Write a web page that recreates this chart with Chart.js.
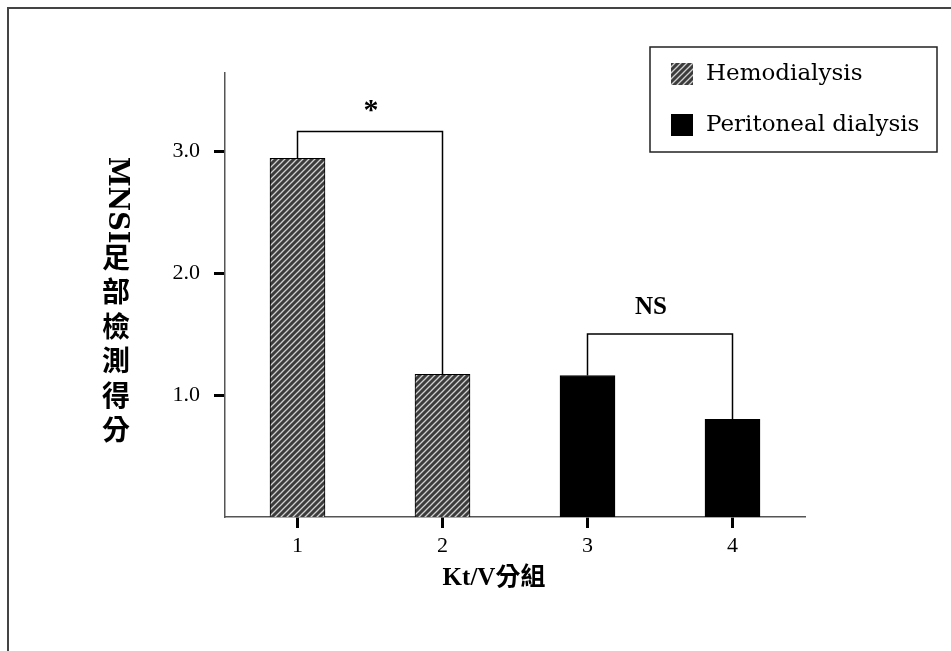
<!DOCTYPE html>
<html lang="zh-Hant">
<head>
    <meta charset="UTF-8">
    <title>MNSI足部檢測得分 by Kt/V分組</title>
    <script src="https://cdn.jsdelivr.net/npm/chart.js"></script>
    <style>
        body { margin: 0; background: #fff; }
    </style>
</head>
<body>
    <canvas id="mnsiChart" width="951" height="651"></canvas>

    <script>
        // data
        const groups = [1, 2, 3, 4];
        const hemoGroups = [1, 2];
        const hemoScores = [2.94, 1.17];
        const pdGroups = [3, 4];
        const pdScores = [1.16, 0.80];
        const yTickValues = [1, 2, 3];
        const seriesNames = ["Hemodialysis", "Peritoneal dialysis"];
        // significance brackets: [from group, to group, level, label]
        const brackets = [[1, 2, 3.16, "*"], [3, 4, 1.50, "NS"]];

        const serif = "'Liberation Serif', 'Times New Roman', serif";
        const cjk = "'Liberation Serif', 'Noto Sans CJK TC', serif";

        // hatched fill used for the hemodialysis bars
        function makeHatch() {
            const c = document.createElement("canvas");
            c.width = 6; c.height = 6;
            const g = c.getContext("2d");
            g.fillStyle = "#3c3c3c";
            g.fillRect(0, 0, 6, 6);
            g.strokeStyle = "#d0d0d0";
            g.lineWidth = 1.3;
            g.beginPath();
            g.moveTo(0, 6); g.lineTo(6, 0);
            g.moveTo(-3, 3); g.lineTo(3, -3);
            g.moveTo(3, 9); g.lineTo(9, 3);
            g.stroke();
            return document.getElementById("mnsiChart").getContext("2d").createPattern(c, "repeat");
        }
        const hatch = makeHatch();

        const toPoints = (xs, ys) => xs.map((x, i) => ({ x: x, y: ys[i] }));

        // frame, titles, legend and brackets
        const extras = {
            id: "extras",
            beforeDraw(chart) {
                const ctx = chart.ctx;
                ctx.save();
                ctx.fillStyle = "#fff";
                ctx.fillRect(0, 0, chart.width, chart.height);
                ctx.strokeStyle = "#444";
                ctx.lineWidth = 2;
                ctx.beginPath();
                ctx.moveTo(8, chart.height);
                ctx.lineTo(8, 8);
                ctx.lineTo(chart.width, 8);
                ctx.stroke();
                ctx.restore();
            },
            afterDraw(chart) {
                const ctx = chart.ctx;
                const xs = chart.scales.x, ys = chart.scales.y;
                const all = toPoints(hemoGroups, hemoScores).concat(toPoints(pdGroups, pdScores));
                ctx.save();

                // brackets
                ctx.strokeStyle = "#000";
                ctx.lineWidth = 1.5;
                ctx.fillStyle = "#000";
                ctx.textAlign = "center";
                ctx.textBaseline = "middle";
                brackets.forEach(b => {
                    const x1 = xs.getPixelForValue(b[0]);
                    const x2 = xs.getPixelForValue(b[1]);
                    const top = ys.getPixelForValue(b[2]);
                    const h1 = all.find(p => p.x === b[0]).y;
                    const h2 = all.find(p => p.x === b[1]).y;
                    ctx.beginPath();
                    ctx.moveTo(x1, ys.getPixelForValue(h1));
                    ctx.lineTo(x1, top);
                    ctx.lineTo(x2, top);
                    ctx.lineTo(x2, ys.getPixelForValue(h2));
                    ctx.stroke();
                    if (b[3] === "*") {
                        ctx.font = "bold 30px " + serif;
                        ctx.fillText(b[3], (x1 + x2) / 2 + 1, top - 20);
                    } else {
                        ctx.font = "bold 25px " + serif;
                        ctx.fillText(b[3], (x1 + x2) / 2 - 9, top - 26);
                    }
                });

                // x title
                ctx.font = "bold 25px " + cjk;
                ctx.fillText("Kt/V分組", 494, 579);

                // y title, written top to bottom
                ctx.save();
                ctx.translate(116, 200);
                ctx.rotate(Math.PI / 2);
                ctx.font = "bold 27px 'DejaVu Serif', serif";
                ctx.fillText("MNSI", 0, 0);
                ctx.restore();
                ctx.font = "bold 28px 'Noto Sans CJK TC', sans-serif";
                "足部檢測得分".split("").forEach((ch, i) => {
                    ctx.fillText(ch, 116, 257 + i * 34.5);
                });

                // legend
                ctx.lineWidth = 1.5;
                ctx.strokeStyle = "#222";
                ctx.strokeRect(650, 47, 287, 105);
                ctx.fillStyle = hatch;
                ctx.fillRect(671, 63, 22, 22);
                ctx.fillStyle = "#000";
                ctx.fillRect(671, 114, 22, 22);
                ctx.textAlign = "left";
                ctx.font = "23px 'DejaVu Serif', serif";
                ctx.fillText(seriesNames[0], 706, 74);
                ctx.fillText(seriesNames[1], 706, 125);
                ctx.restore();
            }
        };

        const ctx1 = document.getElementById("mnsiChart").getContext("2d");
        const mnsiChart = new Chart(ctx1, {
            type: "bar",
            data: {
                datasets: [{
                    label: seriesNames[0],
                    data: toPoints(hemoGroups, hemoScores),
                    backgroundColor: hatch,
                    borderColor: "#000",
                    borderWidth: 1,
                    grouped: false,
                    barThickness: 55
                }, {
                    label: seriesNames[1],
                    data: toPoints(pdGroups, pdScores),
                    backgroundColor: "#000",
                    borderColor: "#000",
                    borderWidth: 1,
                    grouped: false,
                    barThickness: 55
                }]
            },
            options: {
                responsive: false,
                animation: false,
                layout: { padding: { left: 0, top: 73, right: 146, bottom: 0 } },
                plugins: { legend: { display: false }, tooltip: { enabled: false } },
                scales: {
                    x: {
                        type: "linear",
                        min: 0.5,
                        max: 4.5,
                        offset: false,
                        afterBuildTicks: s => { s.ticks = groups.map(v => ({ value: v })); },
                        afterFit: s => { s.height = 134; },
                        ticks: {
                            color: "#000",
                            padding: 5,
                            font: { family: serif, size: 22 },
                            callback: v => String(v)
                        },
                        grid: { offset: false, drawOnChartArea: false, tickLength: 11, tickWidth: 3, tickColor: "#000" },
                        border: { color: "#555", width: 1.5 }
                    },
                    y: {
                        min: 0,
                        max: 3.64,
                        afterBuildTicks: s => { s.ticks = yTickValues.map(v => ({ value: v })); },
                        afterFit: s => { s.width = 225; },
                        ticks: {
                            color: "#000",
                            padding: 14,
                            font: { family: serif, size: 22 },
                            callback: v => v.toFixed(1)
                        },
                        grid: { drawOnChartArea: false, tickLength: 11, tickWidth: 3, tickColor: "#000" },
                        border: { color: "#555", width: 1.5 }
                    }
                }
            },
            plugins: [extras]
        });
    </script>
</body>
</html>
